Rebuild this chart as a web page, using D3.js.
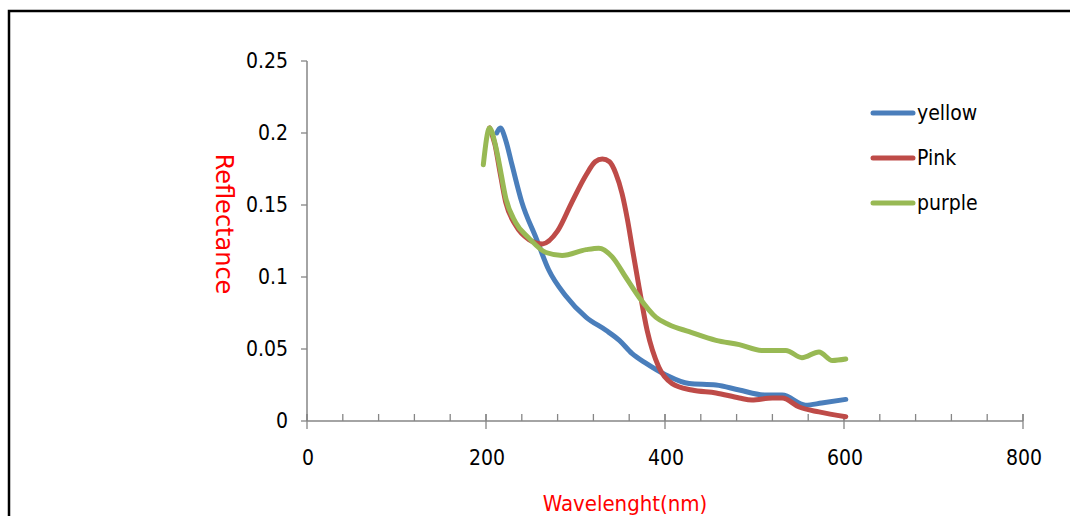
<!DOCTYPE html>
<html>
<head>
<meta charset="utf-8">
<script src="https://cdn.jsdelivr.net/npm/d3@7"></script>
<style>
  body { margin: 0; background: #fff; }
  text { font-family: 'Liberation Sans Narrow', 'DejaVu Sans Condensed', sans-serif; }
</style>
</head>
<body>
<div id="chart"></div>
<script>
// values (wavelength nm, reflectance)
var yellowX = [212, 216, 222, 229, 240, 256, 270, 289, 312, 334, 349, 363, 379, 401, 427, 457, 483, 513, 531, 557, 575, 602];
var yellowY = [0.200, 0.2035, 0.195, 0.178, 0.152, 0.127, 0.105, 0.087, 0.072, 0.063, 0.056, 0.047, 0.040, 0.032, 0.026, 0.025, 0.0215, 0.018, 0.018, 0.011, 0.0125, 0.015];

var pinkX = [204, 210, 215, 222, 233, 248, 263, 280, 296, 312, 322, 330, 338, 345, 352, 358, 364, 371, 380, 393, 408, 430, 457, 483, 497, 520, 531, 550, 572, 602];
var pinkY = [0.2035, 0.192, 0.175, 0.152, 0.136, 0.126, 0.123, 0.132, 0.152, 0.171, 0.180, 0.182, 0.180, 0.172, 0.158, 0.140, 0.118, 0.093, 0.063, 0.0375, 0.026, 0.0215, 0.0195, 0.016, 0.0146, 0.016, 0.016, 0.0097, 0.0063, 0.003];

var purpleX = [197, 204, 210, 215, 222, 233, 248, 267, 285, 312, 326, 341, 356, 371, 390, 404, 427, 457, 483, 508, 535, 553, 572, 587, 602];
var purpleY = [0.178, 0.2035, 0.193, 0.178, 0.155, 0.138, 0.127, 0.117, 0.115, 0.119, 0.120, 0.114, 0.100, 0.086, 0.072, 0.067, 0.062, 0.056, 0.053, 0.049, 0.049, 0.044, 0.048, 0.042, 0.043];

var seriesNames = ['yellow', 'Pink', 'purple'];
var seriesColors = ['#4A7EBB', '#BE4B48', '#98B954'];

var xTicks = [0, 200, 400, 600, 800];
var yTicks = [0, 0.05, 0.1, 0.15, 0.2, 0.25];

var width = 1070, height = 516;

var svg = d3.select('#chart').append('svg')
    .attr('width', width)
    .attr('height', height);

// outer frame
svg.append('rect')
    .attr('x', 9).attr('y', 11)
    .attr('width', 1080).attr('height', 520)
    .attr('fill', 'none')
    .attr('stroke', '#000')
    .attr('stroke-width', 2.5);

var x = d3.scaleLinear().domain([0, 800]).range([307, 1023]);
var y = d3.scaleLinear().domain([0, 0.25]).range([421, 61]);

var axisColor = '#868686';

// x axis: major ticks cross, minor ticks inside
var xAxis = svg.append('g').attr('transform', 'translate(0,' + y(0) + ')');
xAxis.append('line')
    .attr('x1', x(0)).attr('x2', x(800))
    .attr('stroke', axisColor).attr('stroke-width', 1.5);
xAxis.selectAll('.minor')
    .data(d3.range(0, 801, 40))
    .enter().append('line')
    .attr('x1', d => x(d)).attr('x2', d => x(d))
    .attr('y1', -7).attr('y2', 0)
    .attr('stroke', axisColor).attr('stroke-width', 1.3);
xAxis.selectAll('.major')
    .data(xTicks)
    .enter().append('line')
    .attr('x1', d => x(d)).attr('x2', d => x(d))
    .attr('y1', -7).attr('y2', 8)
    .attr('stroke', axisColor).attr('stroke-width', 1.3);
xAxis.selectAll('text')
    .data(xTicks)
    .enter().append('text')
    .attr('x', d => x(d) + 1)
    .attr('y', 44)
    .attr('text-anchor', 'middle')
    .attr('font-size', 21)
    .attr('fill', '#000')
    .text(d => d);

// y axis
var yAxis = svg.append('g').attr('transform', 'translate(' + x(0) + ',0)');
yAxis.append('line')
    .attr('y1', y(0)).attr('y2', y(0.25))
    .attr('stroke', axisColor).attr('stroke-width', 1.5);
yAxis.selectAll('.major')
    .data(yTicks)
    .enter().append('line')
    .attr('x1', -6).attr('x2', 0)
    .attr('y1', d => y(d)).attr('y2', d => y(d))
    .attr('stroke', axisColor).attr('stroke-width', 1.3);
yAxis.selectAll('text')
    .data(yTicks)
    .enter().append('text')
    .attr('x', -19)
    .attr('y', d => y(d) + 7)
    .attr('text-anchor', 'end')
    .attr('font-size', 21)
    .attr('fill', '#000')
    .text(d => d);

// axis titles
svg.append('text')
    .attr('transform', 'translate(216,224) rotate(90)')
    .attr('text-anchor', 'middle')
    .attr('font-size', 24)
    .style('font-family', "'DejaVu Sans', sans-serif")
    .attr('fill', '#FF0000')
    .text('Reflectance');

svg.append('text')
    .attr('x', 625)
    .attr('y', 511)
    .attr('text-anchor', 'middle')
    .attr('font-size', 22)
    .attr('fill', '#FF0000')
    .text('Wavelenght(nm)');

// series
var series = [
    d3.zip(yellowX, yellowY),
    d3.zip(pinkX, pinkY),
    d3.zip(purpleX, purpleY)
];

var line = d3.line()
    .x(d => x(d[0]))
    .y(d => y(d[1]))
    .curve(d3.curveMonotoneX);

svg.selectAll('.series')
    .data(series)
    .enter().append('path')
    .attr('class', 'series')
    .attr('d', line)
    .attr('fill', 'none')
    .attr('stroke', (d, i) => seriesColors[i])
    .attr('stroke-width', 5)
    .attr('stroke-linecap', 'round')
    .attr('stroke-linejoin', 'round');

// legend
var legend = svg.selectAll('.legend')
    .data(seriesNames)
    .enter().append('g')
    .attr('class', 'legend')
    .attr('transform', (d, i) => 'translate(871,' + (113 + i * 45) + ')');
legend.append('line')
    .attr('x1', 2).attr('x2', 42)
    .attr('stroke', (d, i) => seriesColors[i])
    .attr('stroke-width', 5)
    .attr('stroke-linecap', 'round');
legend.append('text')
    .attr('x', 46)
    .attr('y', 7)
    .attr('font-size', 21)
    .attr('fill', '#000')
    .text(d => d);
</script>
</body>
</html>
